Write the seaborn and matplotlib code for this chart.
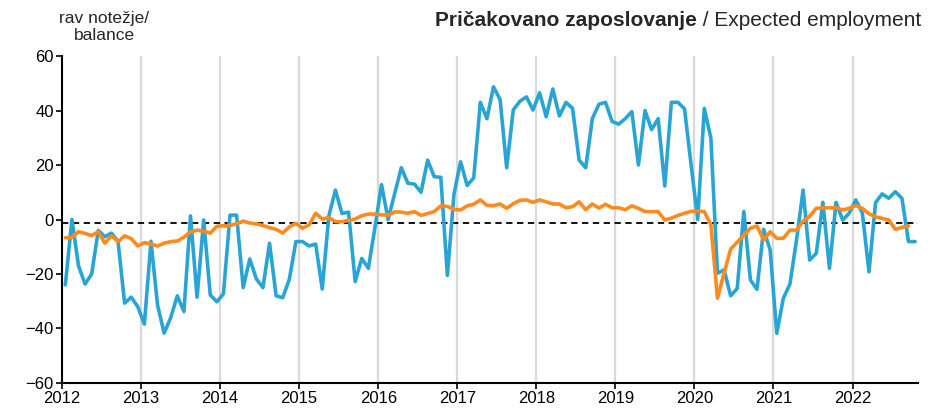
"""Expected employment balance, monthly, 2012 - 2022."""

import matplotlib.pyplot as plt
import numpy as np
import pandas as pd
import seaborn as sns

# ── Data ──────────────────────────────────────────────────────────────────────

START_YEAR = 2012
YEAR_LABELS = [str(y) for y in range(2012, 2023)]
Y_TICKS = [-60, -40, -20, 0, 20, 40, 60]
AVERAGE_LEVEL = -1.2

BALANCE_SI = [
    -24, 0, -17, -23.7, -20, -4, -6.3, -5, -8, -30.7, -28.5, -32,
    -38.4, -8, -31.4, -41.7, -36, -28, -33.8, 1.3, -28.5, -0.2, -27.7, -30.2,
    -27.3, 1.6, 1.6, -25, -14.5, -21.8, -25, -8.7, -28, -28.7, -22, -8.1,
    -8.1, -9.7, -9, -25.5, 1.3, 10.8, 2.2, 2.7, -22.8, -14.3, -17.9, -3,
    12.8, 0, 9.5, 19, 13.3, 13, 10, 21.8, 15.7, 15.5, -20.5, 9.3,
    21.2, 12.5, 15.3, 43, 37, 48.7, 44, 19, 40.2, 43.4, 45, 40.2,
    46.5, 37.7, 47.9, 38, 43, 40.8, 21.8, 19, 37, 42.3, 43, 36,
    35, 37, 39.6, 20, 40, 33, 37, 12.3, 43, 43, 40.6, 20,
    0, 40.8, 29.8, -19.7, -18.5, -28, -25.3, 2.9, -22.2, -25.6, -3.6, -11.2,
    -41.8, -28.9, -23.7, -7.5, 10.8, -14.9, -12.4, 6.3, -17.9, 6.3, -0.2, 2.3,
    7.2, 2.3, -19.2, 6.2, 9.4, 7.8, 10.2, 7.8, -8.1, -8.1,
]

BALANCE_EA = [
    -6.7, -6.5, -4.5, -5.1, -5.9, -4.5, -8.7, -6, -8.1, -6, -7, -9.7,
    -8.5, -9, -9.7, -8.7, -8.1, -7.9, -6.5, -4.5, -3.9, -4.3, -5, -2.5,
    -2.3, -2.2, -1.5, -0.6, -1.3, -1.6, -2.2, -3, -3.6, -5, -2.7, -1.4,
    -3.2, -2, 2.3, 0.2, 0.7, -0.8, -0.8, -0.3, 0.2, 1.4, 2, 2,
    1.7, 1.6, 2.8, 2.7, 2.3, 2.9, 1.5, 2.2, 2.9, 5, 4.8, 3.7,
    3.5, 5, 5.6, 7.2, 5.2, 5.1, 5.7, 4.1, 5.8, 7, 7.2, 6.3,
    7.2, 6.5, 5.7, 5.7, 4.3, 4.7, 6.5, 3.6, 5.7, 4.2, 5.6, 4.3,
    4.3, 3.6, 5, 4.1, 2.9, 2.9, 2.9, -0.2, 0.5, 1.5, 2.3, 3,
    3.1, 2.9, -2, -28.9, -19.7, -10.9, -8.3, -5.8, -3.2, -2.4, -7.5, -4.5,
    -6.9, -6.9, -3.9, -3.9, -0.6, 1.2, 4.1, 4.3, 4.3, 4.3, 3.5, 4.1,
    5.1, 4.1, 2.1, 1, 0.4, -0.2, -3.6, -2.9, -2.3,
]

COLORS = {"SI": "#2AA4D5", "EA": "#FF8A1E"}

# ── Figure ────────────────────────────────────────────────────────────────────

sns.set_theme(style="ticks")
plt.rcParams["font.family"] = ["Liberation Sans", "DejaVu Sans"]


def build_frame() -> pd.DataFrame:
    rows = []
    for name, values in (("SI", BALANCE_SI), ("EA", BALANCE_EA)):
        for i, v in enumerate(values):
            # month index, plotted in the middle of the month
            rows.append({"month": i + 0.5, "balance": v, "series": name})
    return pd.DataFrame(rows)


def main():
    df = build_frame()
    n_months = len(BALANCE_SI)

    fig = plt.figure(figsize=(9.4, 4.09), dpi=100)
    ax = fig.add_axes([0.066, 0.0636, 0.911, 0.7994])

    for m in range(12, n_months, 12):
        ax.axvline(m, color="#D9D9D9", linewidth=1.6, zorder=0)
    ax.axhline(AVERAGE_LEVEL, color="black", linewidth=1.3,
               linestyle=(0, (3.5, 2.5)), zorder=1.5)

    sns.lineplot(data=df, x="month", y="balance", hue="series",
                 hue_order=["SI", "EA"], palette=COLORS, linewidth=2.6,
                 legend=False, ax=ax, zorder=2)

    ax.set_xlim(0, 130)
    ax.set_ylim(-60, 60)
    ax.set_xticks(np.arange(0, 12 * len(YEAR_LABELS), 12))
    ax.set_xticklabels(YEAR_LABELS)
    ax.set_yticks(Y_TICKS)
    ax.set_xlabel("")
    ax.set_ylabel("")
    ax.tick_params(axis="both", labelsize=12, length=4, width=1.2,
                   color="black", labelcolor="black", pad=2)

    for side in ("top", "right"):
        ax.spines[side].set_visible(False)
    for side in ("left", "bottom"):
        ax.spines[side].set_color("black")
        ax.spines[side].set_linewidth(1.5)

    fig.text(104 / 940, 1 - 27 / 409, "rav notežje/\nbalance", ha="center",
             va="center", fontsize=12.5, linespacing=1.1)

    # title: bold Slovenian part, regular English part, right aligned
    right = fig.text(921 / 940, 1 - 20 / 409, " / Expected employment",
                     ha="right", va="center", fontsize=15)
    fig.canvas.draw()
    bbox = right.get_window_extent(fig.canvas.get_renderer())
    fig.text(bbox.x0 / fig.bbox.width, 1 - 20 / 409, "Pričakovano zaposlovanje",
             ha="right", va="center", fontsize=15, fontweight="bold")

    fig.savefig("out.png", dpi=100)
    plt.close(fig)


if __name__ == "__main__":
    main()
